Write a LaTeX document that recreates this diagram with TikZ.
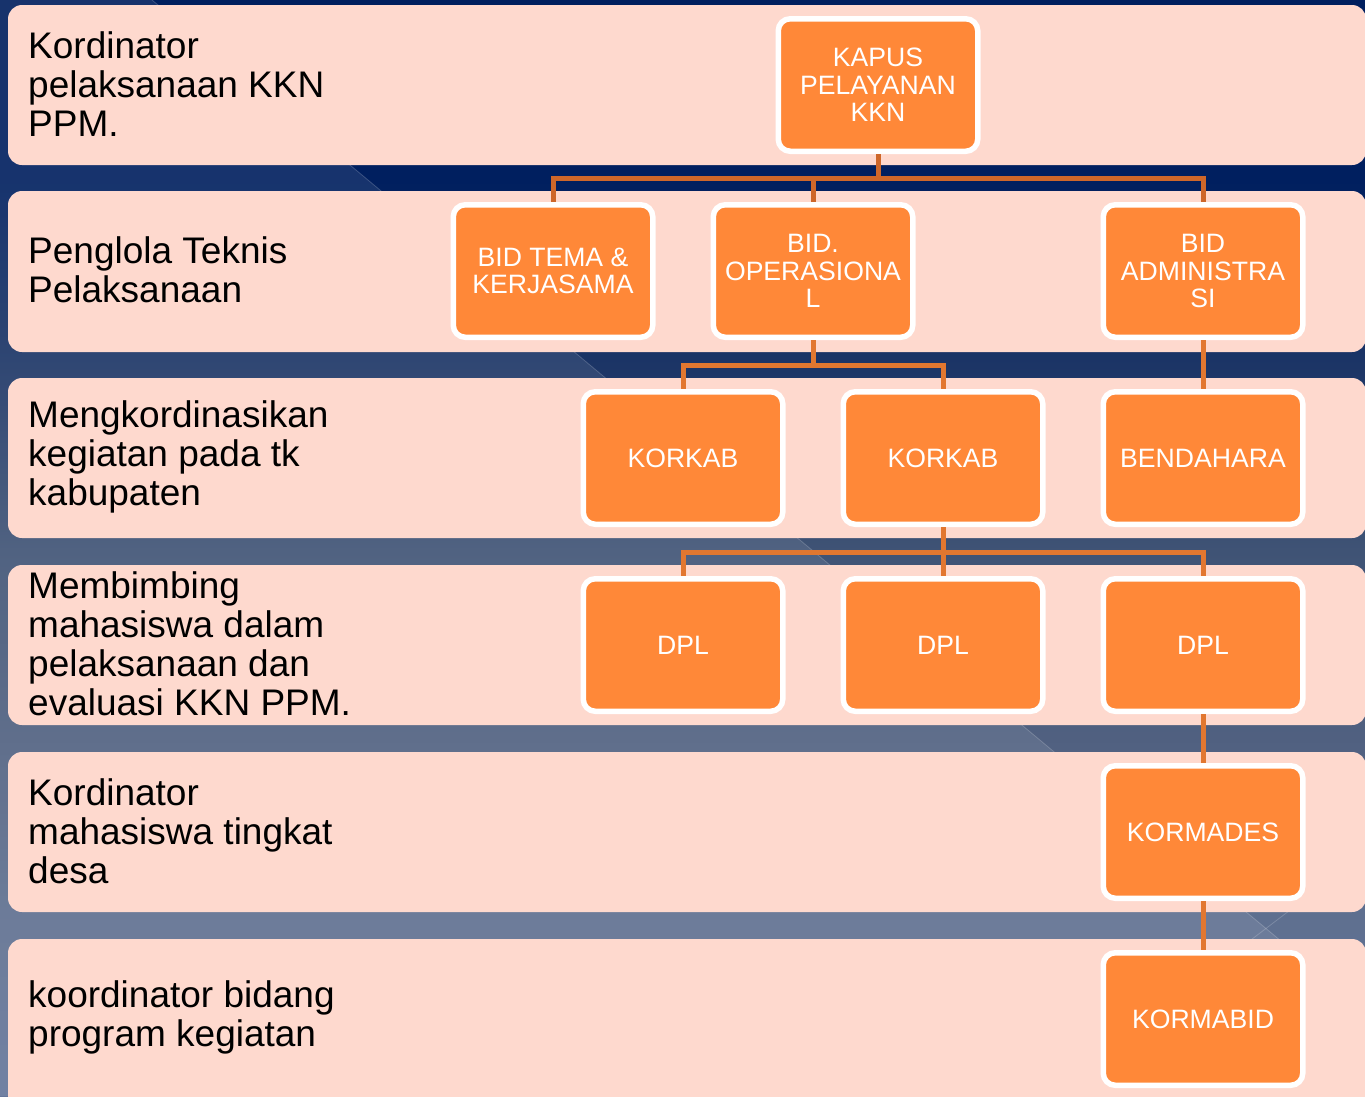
\documentclass[tikz,border=0pt]{standalone}
\usepackage{fontspec}
\setmainfont{Liberation Sans}
\definecolor{bandc}{RGB}{254,217,206}
\definecolor{boxc}{RGB}{255,136,56}
\definecolor{linea}{RGB}{206,103,42}
\definecolor{lineb}{RGB}{226,119,48}
\definecolor{c0}{HTML}{001F5E}
\definecolor{c1}{HTML}{001F5F}
\definecolor{c2}{HTML}{1C3566}
\definecolor{c3}{HTML}{3F5375}
\definecolor{c4}{HTML}{506080}
\definecolor{c5}{HTML}{5F7090}
\definecolor{c6}{HTML}{64759A}
\pgfdeclareverticalshading{bgshade}{100bp}{color(0bp)=(c6); color(25bp)=(c6); color(32.8bp)=(c5); color(41.4bp)=(c4); color(49.9bp)=(c3); color(58.3bp)=(c2); color(66.8bp)=(c1); color(75bp)=(c0); color(100bp)=(c0)}
\tikzset{
  box/.style={draw=white, line width=5.5pt, fill=boxc, rounded corners=12pt,
    minimum width=199.5pt, minimum height=132.5pt, text=white, align=center,
    font=\fontsize{26.6}{27.6}\selectfont, inner sep=0pt},
  lbl/.style={anchor=west, align=left, font=\fontsize{37}{39}\selectfont,
    inner sep=0pt, text=black},
  conna/.style={draw=linea, line width=5pt},
  connb/.style={draw=lineb, line width=5pt},
  band/.style={fill=bandc, rounded corners=14pt},
}
\begin{document}
\begin{tikzpicture}[x=1pt,y=-1pt]
\useasboundingbox (0,0) rectangle (1365,1096);
% background
\shade[shading=bgshade] (0,0) rectangle (1365,1096);
\fill[white, opacity=0.09] (0,0) -- (152,0) -- (1365,1011) -- (1365,1096) -- (0,1096) -- cycle;
\draw[white, opacity=0.18, line width=0.8pt] (152,0) -- (1365,1011);
\draw[white, opacity=0.18, line width=0.8pt] (1365,853) -- (1046,1096);
% bands
\fill[band] (8,5) rectangle (1366,165);
\fill[band] (8,191) rectangle (1366,352);
\fill[band] (8,378) rectangle (1366,538);
\fill[band] (8,565) rectangle (1366,725);
\fill[band] (8,752) rectangle (1366,912);
\fill[band] (8,939) rectangle (1366,1110);
% labels
\node[lbl] (l1) at (28,84) {Kordinator\\pelaksanaan KKN\\PPM.};
\node[lbl] (l2) at (28,270) {Penglola Teknis\\Pelaksanaan};
\node[lbl] (l3) at (28,457) {Mengkordinasikan\\kegiatan pada tk\\kabupaten};
\node[lbl] (l4) at (28,644) {Membimbing\\mahasiswa dalam\\pelaksanaan dan\\evaluasi KKN PPM.};
\node[lbl] (l5) at (28,831) {Kordinator\\mahasiswa tingkat\\desa};
\node[lbl] (l6) at (28,1017) {koordinator bidang\\program kegiatan};
% boxes
\node[box] (kapus) at (878,85) {KAPUS\\PELAYANAN\\KKN};
\node[box] (bidtema) at (553,271) {BID TEMA \&\\KERJASAMA};
\node[box] (bidop) at (813,271) {BID.\\OPERASIONA\\L};
\node[box] (bidadm) at (1203,271) {BID\\ADMINISTRA\\SI};
\node[box] (korkaba) at (683,458) {KORKAB};
\node[box] (korkabb) at (943,458) {KORKAB};
\node[box] (bendahara) at (1203,458) {BENDAHARA};
\node[box] (dpla) at (683,645) {DPL};
\node[box] (dplb) at (943,645) {DPL};
\node[box] (dplc) at (1203,645) {DPL};
\node[box] (kormades) at (1203,832) {KORMADES};
\node[box] (kormabid) at (1203,1019) {KORMABID};
% connectors
\coordinate (j1) at (878,178);
\coordinate (j2) at (813,365);
\coordinate (j3) at (943,552);
\draw[conna] (kapus.south) -- (j1);
\draw[conna] (j1) -| (bidtema.north);
\draw[conna] (j1) -| (bidop.north);
\draw[conna] (j1) -| (bidadm.north);
\draw[connb] (bidop.south) -- (j2);
\draw[connb] (j2) -| (korkaba.north);
\draw[connb] (j2) -| (korkabb.north);
\draw[connb] (bidadm.south) -- (bendahara.north);
\draw[connb] (korkabb.south) -- (j3);
\draw[connb] (j3) -| (dpla.north);
\draw[connb] (j3) -- (dplb.north);
\draw[connb] (j3) -| (dplc.north);
\draw[connb] (dplc.south) -- (kormades.north);
\draw[connb] (kormades.south) -- (kormabid.north);
\end{tikzpicture}
\end{document}
